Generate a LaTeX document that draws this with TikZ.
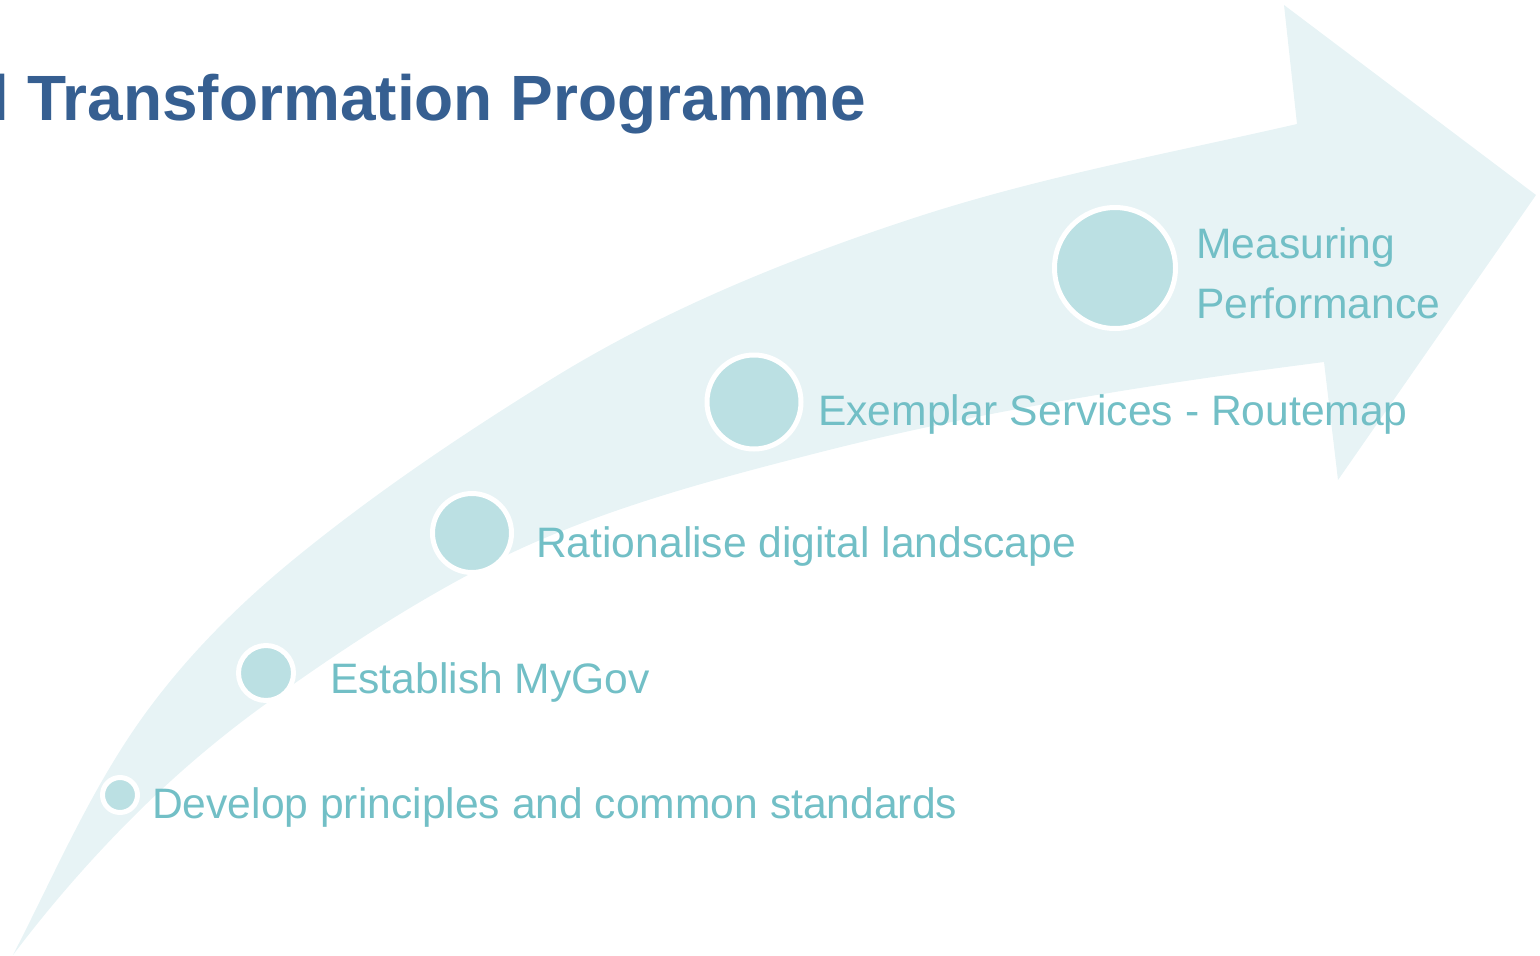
\documentclass[tikz,border=0pt]{standalone}
\usepackage{fontspec}
\setmainfont{Liberation Sans}
\definecolor{arrowfill}{HTML}{E7F3F5}
\definecolor{dotfill}{HTML}{BBE0E3}
\definecolor{labeltext}{HTML}{72BFC6}
\definecolor{titleblue}{HTML}{365F91}
\tikzset{
  dot/.style={circle, fill=dotfill, draw=white, line width=5pt, inner sep=0pt},
  steplabel/.style={anchor=base west, inner sep=0pt, text=labeltext, font=\fontsize{42.6}{60}\selectfont, align=left},
}
\begin{document}
\begin{tikzpicture}[x=1pt,y=-1pt]
\useasboundingbox (0,0) rectangle (1540,956);
% big curved arrow
\fill[arrowfill] (13,955)
  .. controls (50.1,882.9) and (82.6,807.9) .. (127,740)
  .. controls (171.6,671.7) and (229.9,611.7) .. (293,560)
  .. controls (373.9,493.7) and (461.1,435.1) .. (550,380)
  .. controls (663.8,309.4) and (789.7,258.5) .. (917,217)
  .. controls (1041,176.6) and (1169.9,153.2) .. (1297,124)
  -- (1284,5) -- (1536,195) -- (1338,480) -- (1324,362)
  .. controls (1153.7,383.8) and (983.4,410.4) .. (817,453)
  .. controls (703,482.2) and (587.3,512.8) .. (483,567)
  .. controls (407.5,606.2) and (336.1,653.3) .. (267,703)
  .. controls (219.4,737.2) and (174.4,775.6) .. (133,817)
  .. controls (89.9,860.1) and (49.7,906.3) .. (13,955)
  -- cycle;
% title
\node[anchor=base west, inner sep=0pt, text=titleblue, font=\fontsize{64}{70}\selectfont\bfseries] (title) at (27,120) {\llap{l\ }Transformation Programme};
% milestones
\node[dot, minimum size=35pt] (d1) at (120,795) {};
\node[dot, minimum size=55pt] (d2) at (266,673) {};
\node[dot, minimum size=79pt] (d3) at (472,533) {};
\node[dot, minimum size=94pt] (d4) at (754,402) {};
\node[dot, minimum size=121pt] (d5) at (1115,268) {};
\node[steplabel] (l1) at (152,818) {Develop principles and common standards};
\node[steplabel] (l2) at (330,693) {Establish MyGov};
\node[steplabel] (l3) at (536,557) {Rationalise digital landscape};
\node[steplabel] (l4) at (818,425) {Exemplar Services - Routemap};
\node[steplabel] (l5) at (1196,318) {Measuring\\Performance};
\end{tikzpicture}
\end{document}
